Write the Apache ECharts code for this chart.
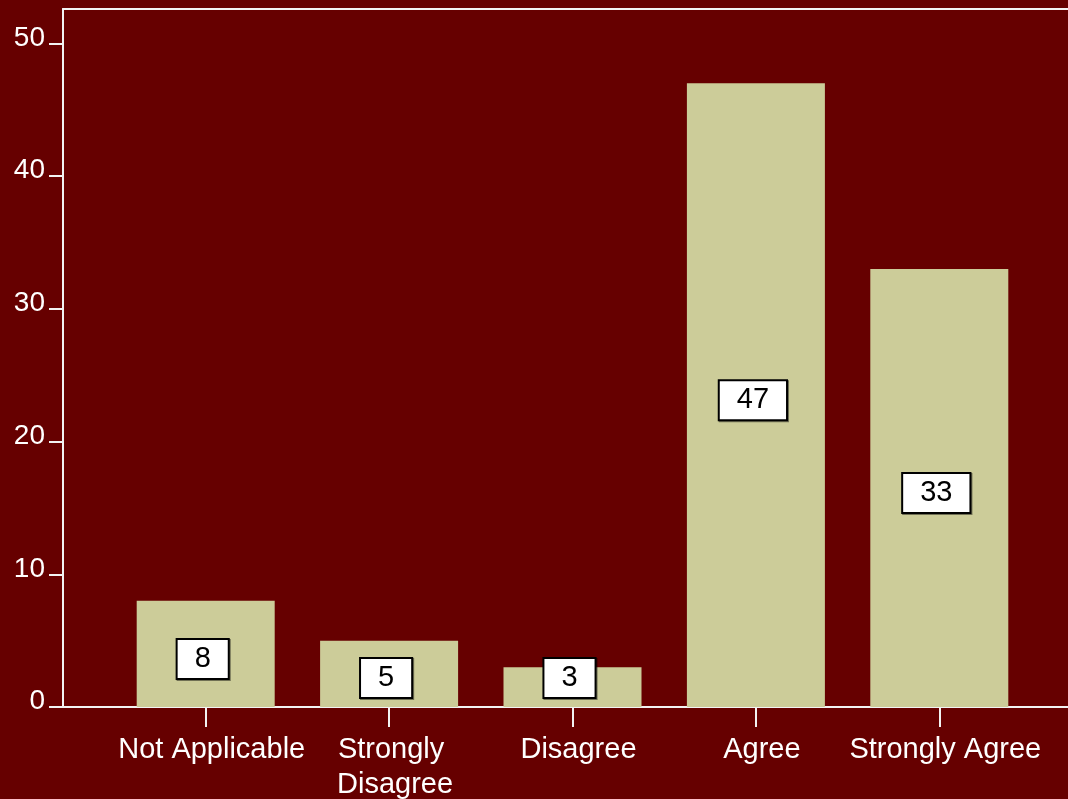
<!DOCTYPE html>
<html>
<head>
<meta charset="utf-8">
<script src="https://cdn.jsdelivr.net/npm/echarts@6/dist/echarts.min.js"></script>
<style>
  html, body { margin: 0; padding: 0; background: #660000; }
  #chart { width: 1068px; height: 799px; }
</style>
</head>
<body>
<div id="chart"></div>
<script>
// Survey responses
const categories = ['Not Applicable', 'Strongly Disagree', 'Disagree', 'Agree', 'Strongly Agree'];
const counts = [8, 5, 3, 47, 33];
const yTicks = [0, 10, 20, 30, 40, 50];
const yMax = 52.6;

const FONT = '"Liberation Sans", Arial, sans-serif';
const LINE = '#f2f2f2';

const chart = echarts.init(document.getElementById('chart'), null, { renderer: 'canvas' });

const frameLine = { show: true, lineStyle: { color: LINE, width: 2 } };

chart.setOption({
  backgroundColor: '#660000',
  animation: false,
  grid: [
    // plot area holding the bars
    { left: 114, right: 37, top: 9, bottom: 92, containLabel: false, outerBoundsMode: 'none' },
    // outer frame (left, top and bottom lines) with the value axis
    { left: 63, right: 0, top: 9, bottom: 92, containLabel: false, outerBoundsMode: 'none' }
  ],
  xAxis: [
    {
      type: 'category',
      gridIndex: 0,
      data: categories,
      axisLine: { show: false },
      axisTick: { show: true, alignWithLabel: true, length: 20, lineStyle: { color: LINE, width: 2 } },
      axisLabel: {
        color: '#ffffff', fontFamily: FONT, fontSize: 29, lineHeight: 35,
        margin: 25, width: 205, overflow: 'break', interval: 0,
        padding: [0, 0, 0, 12]
      },
      splitLine: { show: false }
    },
    { type: 'value', gridIndex: 1, position: 'bottom', min: 0, max: 1,
      axisLine: frameLine, axisTick: { show: false }, axisLabel: { show: false }, splitLine: { show: false } },
    { type: 'value', gridIndex: 1, position: 'top', min: 0, max: 1,
      axisLine: frameLine, axisTick: { show: false }, axisLabel: { show: false }, splitLine: { show: false } }
  ],
  yAxis: [
    { type: 'value', gridIndex: 0, min: 0, max: yMax, show: false, splitLine: { show: false } },
    {
      type: 'value', gridIndex: 1, min: 0, max: yMax, interval: 10,
      axisLine: frameLine,
      axisTick: { show: true, length: 14, customValues: yTicks, lineStyle: { color: LINE, width: 2 } },
      axisLabel: {
        color: '#ffffff', fontFamily: FONT, fontSize: 28, margin: 18,
        customValues: yTicks, verticalAlign: 'bottom', lineHeight: 11
      },
      splitLine: { show: false }
    }
  ],
  series: [{
    type: 'bar',
    xAxisIndex: 0,
    yAxisIndex: 0,
    data: counts,
    barWidth: 138,
    itemStyle: { color: '#cccc99' },
    label: {
      show: true,
      position: 'inside',
      color: '#000000',
      fontFamily: FONT,
      fontSize: 29,
      backgroundColor: '#ffffff',
      borderColor: '#000000',
      borderWidth: 2,
      padding: [5, 17, 4, 17],
      shadowColor: 'rgba(0,0,0,0.45)',
      shadowOffsetX: 1,
      shadowOffsetY: 1
    },
    // keep each value box a little below the bar middle, but off the baseline
    labelLayout: function (p) {
      const bottom = p.rect.y + p.rect.height;
      const cy = Math.min(p.rect.y + p.rect.height / 2 + 5, bottom - 29);
      return { x: p.rect.x + p.rect.width / 2 - 3, y: cy, align: 'center', verticalAlign: 'middle' };
    }
  }]
});
</script>
</body>
</html>
